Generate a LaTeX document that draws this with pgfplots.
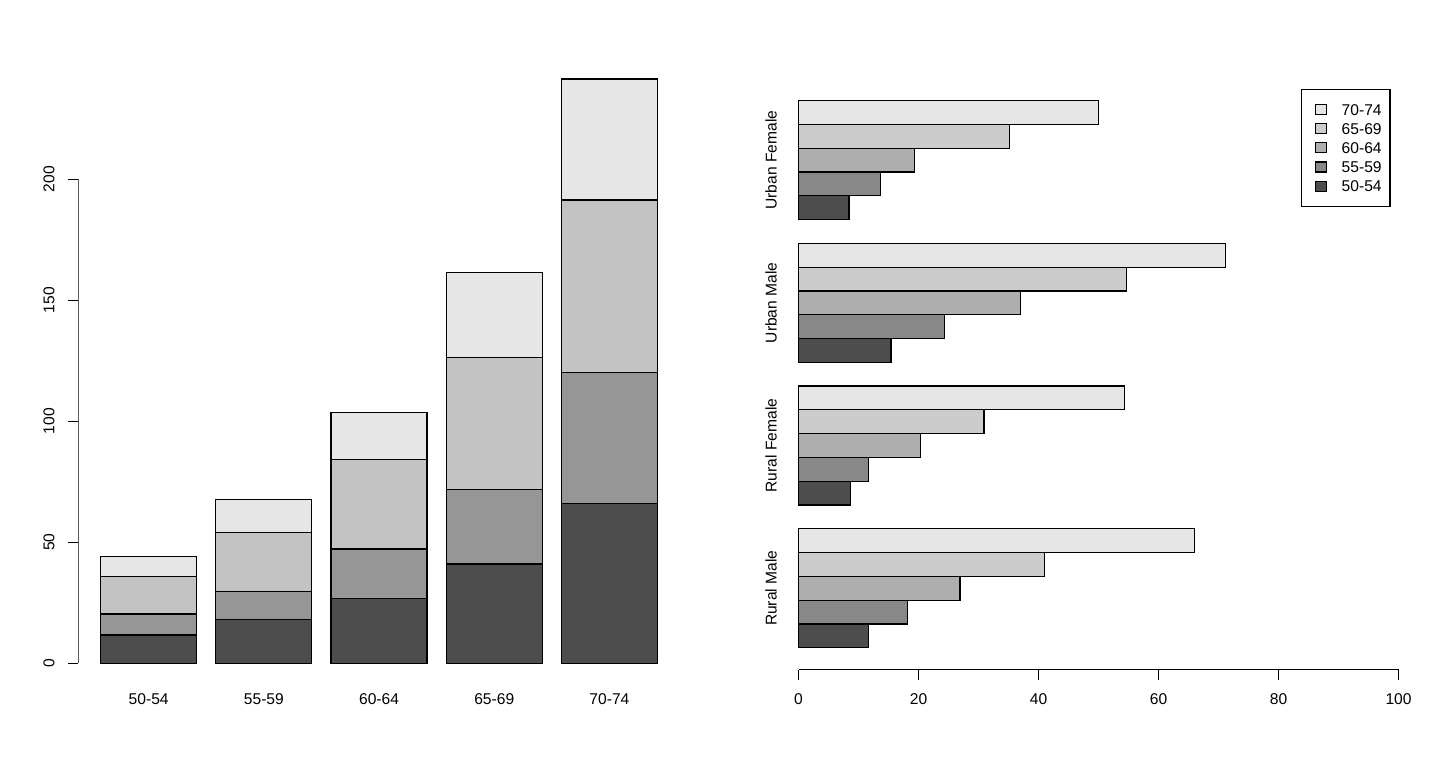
\documentclass[border=0pt]{standalone}
\usepackage{fontspec}
\setmainfont{Liberation Sans}
\usepackage{pgfplots}
\pgfplotsset{compat=1.18}
% grey ramps as in the source
\definecolor{ga}{HTML}{4D4D4D}
\definecolor{gb}{HTML}{969696}
\definecolor{gc}{HTML}{C3C3C3}
\definecolor{gd}{HTML}{E6E6E6}
\definecolor{ha}{HTML}{4D4D4D}
\definecolor{hb}{HTML}{888888}
\definecolor{hc}{HTML}{AEAEAE}
\definecolor{hd}{HTML}{CCCCCC}
\definecolor{he}{HTML}{E6E6E6}
\pgfplotsset{
  rbase/.style={
    scale only axis, anchor=south west,
    axis line style={draw=none},
    tick align=outside, major tick length=10bp,
    tick style={black, line width=1.2bp},
    /pgf/number format/assume math mode=true,
    tick label style={font=\fontsize{15.6bp}{18.7bp}\selectfont},
    every axis plot/.append style={draw=black, line width=1.2bp},
  },
}
\begin{document}
\begin{tikzpicture}[font=\fontsize{15.6bp}{18.7bp}\selectfont]
\path (0,0) rectangle (1440bp,768bp);
% left: stacked bars
\begin{axis}[rbase,
  at={(78.4bp,81.4bp)}, width=601.3bp, height=629.6bp,
  xmin=-0.032, xmax=6.232, ymin=-9.636, ymax=250.536,
  ybar stacked, bar width=1,
  ytick={0,50,100,150,200}, ytick pos=left,
  xtick={0.7,1.9,3.1,4.3,5.5},
  xticklabels={50-54,55-59,60-64,65-69,70-74},
  xtick style={draw=none},
  yticklabel style={xshift=-14bp, rotate=90, anchor=base},
  xticklabel style={anchor=base, yshift=-8bp},
]
\addplot[fill=ga] coordinates {(0.7,11.7) (1.9,18.1) (3.1,26.9) (4.3,41.0) (5.5,66.0)};
\addplot[fill=gb] coordinates {(0.7,8.7) (1.9,11.7) (3.1,20.3) (4.3,30.9) (5.5,54.3)};
\addplot[fill=gc] coordinates {(0.7,15.4) (1.9,24.3) (3.1,37.0) (4.3,54.6) (5.5,71.1)};
\addplot[fill=gd] coordinates {(0.7,8.4) (1.9,13.6) (3.1,19.3) (4.3,35.1) (5.5,50.0)};
\draw[black, line width=1.2bp] (axis cs:-0.032,0) -- (axis cs:-0.032,200);
\end{axis}
% right: grouped horizontal bars
\begin{axis}[rbase,
  at={(774.5bp,98.4bp)}, width=648bp, height=590.8bp,
  xmin=-4, xmax=104, ymin=0.08, ymax=24.92,
  xbar, bar width=1, bar shift=0,
  xtick={0,20,40,60,80,100}, xtick pos=bottom,
  ytick={3.5,9.5,15.5,21.5},
  yticklabels={Rural Male,Rural Female,Urban Male,Urban Female},
  ytick style={draw=none},
  yticklabel style={xshift=12bp, rotate=90, anchor=base},
  xticklabel style={anchor=base, yshift=-25bp},
  reverse legend, legend cell align=left,
  legend image code/.code={
    \path[draw=none, fill=none] (-6bp,-5bp) rectangle (0bp,5bp);
    \draw[#1, draw=black, line width=1.2bp] (0bp,-5bp) rectangle (10.7bp,5bp);
  },
  legend style={at={(0.9506,0.983)}, anchor=north east, draw=black,
    line width=1.2bp, font=\fontsize{15.6bp}{18.7bp}\selectfont,
    inner xsep=8.3bp, inner ysep=14.4bp, row sep=8bp,
    nodes={inner xsep=0pt, inner ysep=0pt, text height=11.2bp, text depth=0pt},
    /tikz/every odd column/.append style={column sep=15bp}},
]
\addplot[fill=ha] coordinates {(11.7,1.5) (8.7,7.5) (15.4,13.5) (8.4,19.5)};
\addplot[fill=hb] coordinates {(18.1,2.5) (11.7,8.5) (24.3,14.5) (13.6,20.5)};
\addplot[fill=hc] coordinates {(26.9,3.5) (20.3,9.5) (37.0,15.5) (19.3,21.5)};
\addplot[fill=hd] coordinates {(41.0,4.5) (30.9,10.5) (54.6,16.5) (35.1,22.5)};
\addplot[fill=he] coordinates {(66.0,5.5) (54.3,11.5) (71.1,17.5) (50.0,23.5)};
\legend{50-54,55-59,60-64,65-69,70-74}
\draw[black, line width=1.2bp] (axis cs:0,0.08) -- (axis cs:100,0.08);
\end{axis}
\end{tikzpicture}
\end{document}
